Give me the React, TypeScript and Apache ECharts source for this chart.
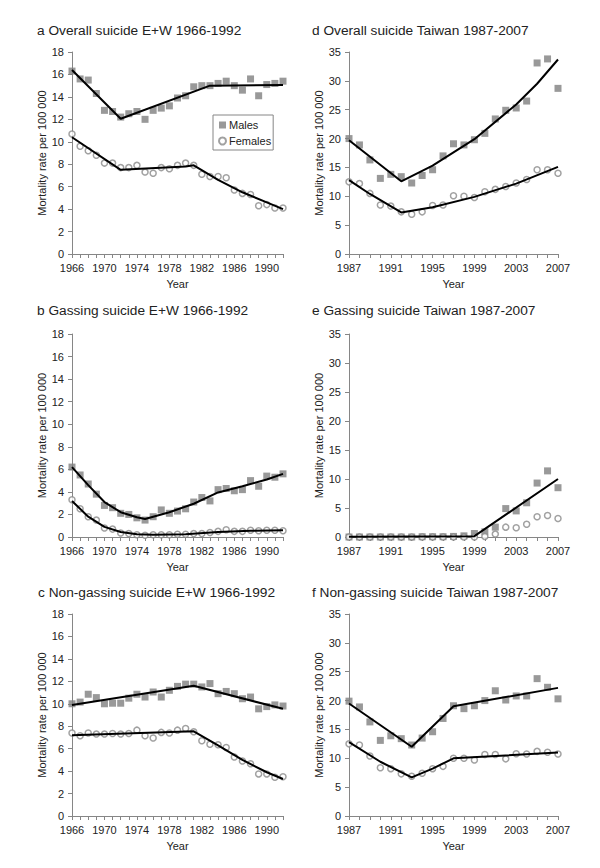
import React, { useEffect, useRef } from "react";
import * as echarts from "echarts";

// ---------- Data ----------
const ewYears = ["1966","1967","1968","1969","1970","1971","1972","1973","1974","1975","1976","1977","1978","1979","1980","1981","1982","1983","1984","1985","1986","1987","1988","1989","1990","1991","1992"];
const twYears = ["1987","1988","1989","1990","1991","1992","1993","1994","1995","1996","1997","1998","1999","2000","2001","2002","2003","2004","2005","2006","2007"];

const ewTicks = [0, 18, 2];
const twTicks = [0, 35, 5];

// a Overall suicide E+W
const aMales = [16.3,15.6,15.5,14.3,12.8,12.7,12.2,12.5,12.7,12.0,12.8,13.0,13.2,13.9,14.1,14.9,15.0,15.0,15.2,15.4,15.0,14.6,15.6,14.1,15.1,15.2,15.4];
const aFemales = [10.7,9.6,9.2,8.8,8.1,8.1,7.7,7.7,7.9,7.3,7.2,7.7,7.6,7.9,8.1,7.9,7.1,6.9,6.9,6.8,5.7,5.4,5.3,4.3,4.4,4.1,4.1];
const aMaleTrend = [["1966",16.4],["1972",12.05],["1983",15.0],["1992",15.05]];
const aFemaleTrend = [["1966",10.4],["1972",7.5],["1980",7.8],["1981",7.9],["1984",6.6],["1987",5.5],["1990",4.6],["1992",4.0]];

// b Gassing suicide E+W
const bMales = [6.2,5.5,4.7,3.8,2.8,2.6,2.1,2.0,1.7,1.5,1.8,2.4,2.1,2.3,2.5,3.1,3.5,3.2,4.2,4.3,4.1,4.2,5.0,4.5,5.4,5.3,5.6];
const bFemales = [3.3,2.5,1.8,1.5,0.8,0.7,0.35,0.3,0.2,0.15,0.2,0.2,0.2,0.25,0.25,0.3,0.3,0.4,0.5,0.65,0.5,0.5,0.6,0.55,0.6,0.6,0.55];
const bMaleTrend = [["1966",6.2],["1968",4.6],["1970",3.1],["1972",2.2],["1974",1.75],["1975",1.6],["1978",2.2],["1981",2.95],["1984",3.95],["1987",4.5],["1990",5.1],["1992",5.6]];
const bFemaleTrend = [["1966",3.2],["1968",1.8],["1970",0.9],["1972",0.45],["1974",0.25],["1976",0.2],["1980",0.25],["1984",0.45],["1988",0.55],["1992",0.6]];

// c Non-gassing suicide E+W
const cMales = [10.0,10.15,10.85,10.55,10.0,10.05,10.05,10.5,10.85,10.6,11.05,10.6,11.2,11.55,11.75,11.75,11.5,11.8,10.9,11.1,10.9,10.45,10.6,9.55,9.75,9.9,9.8];
const cFemales = [7.4,7.15,7.4,7.3,7.3,7.35,7.3,7.35,7.65,7.15,6.95,7.45,7.4,7.65,7.8,7.5,6.7,6.4,6.35,6.1,5.25,4.9,4.65,3.75,3.75,3.45,3.5];
const cMaleTrend = [["1966",9.9],["1981",11.6],["1992",9.55]];
const cFemaleTrend = [["1966",7.2],["1981",7.55],["1984",6.3],["1987",5.0],["1990",3.9],["1992",3.3]];

// d Overall suicide Taiwan
const dMales = [20.0,18.9,16.3,13.1,13.8,13.4,12.3,13.6,14.6,17.0,19.1,18.9,19.8,20.9,23.4,24.9,25.3,26.5,33.1,33.8,28.7];
const dFemales = [12.5,12.2,10.5,8.5,8.3,7.3,6.9,7.3,8.4,8.5,10.1,10.0,9.8,10.8,11.2,11.7,12.3,12.9,14.6,14.6,14.0];
const dMaleTrend = [["1987",19.7],["1992",12.6],["1995",15.3],["1999",19.9],["2003",25.9],["2005",29.5],["2007",33.7]];
const dFemaleTrend = [["1987",12.8],["1989",10.4],["1992",7.2],["1995",8.1],["1999",9.9],["2003",12.2],["2007",15.1]];

// e Gassing suicide Taiwan
const eMales = [0,0,0,0,0,0,0,0.05,0.05,0.05,0.1,0.2,0.6,0.9,1.7,4.9,4.5,5.9,9.3,11.4,8.5];
const eFemales = [0,0,0,0,0,0,0,0,0,0,0,0,0,0.1,0.5,1.7,1.6,2.2,3.5,3.7,3.2];
const eMaleTrend = [["1987",0.05],["1999",0.15],["2007",10.0]];
const eFemaleTrend: (string | number)[][] = [];

// f Non-gassing suicide Taiwan
const fMales = [19.9,18.9,16.3,13.1,13.9,13.4,12.3,13.5,14.6,16.9,19.1,18.6,19.1,20.0,21.7,20.1,20.8,20.8,23.8,22.3,20.3];
const fFemales = [12.5,12.3,10.4,8.35,8.2,7.3,6.9,7.4,8.2,8.6,10.0,10.0,9.7,10.65,10.65,9.9,10.8,10.75,11.2,11.05,10.75];
const fMaleTrend = [["1987",19.5],["1993",12.0],["1997",19.0],["2007",22.2]];
const fFemaleTrend = [["1987",12.8],["1990",9.4],["1993",6.7],["1995",8.2],["1997",10.0],["2007",11.0]];

const titles = [
  "a Overall suicide E+W 1966-1992",
  "b Gassing suicide E+W 1966-1992",
  "c Non-gassing suicide E+W 1966-1992",
  "d Overall suicide Taiwan 1987-2007",
  "e Gassing suicide Taiwan 1987-2007",
  "f Non-gassing suicide Taiwan 1987-2007",
];

const FONT = "'Liberation Sans', Arial, sans-serif";
const TEXT = "#222";
const AXIS = "#868686";

export default function App() {
  const ref = useRef<HTMLDivElement>(null);
  useEffect(() => {
    if (!ref.current) return;
    const chart = echarts.init(ref.current, null, { renderer: "svg" });

    const panels = [
      { title: titles[0], years: ewYears, ticks: ewTicks, m: aMales, f: aFemales, mt: aMaleTrend, ft: aFemaleTrend, grid: { left: 72, top: 52, width: 211, height: 202 }, tl: [37, 23] },
      { title: titles[1], years: ewYears, ticks: ewTicks, m: bMales, f: bFemales, mt: bMaleTrend, ft: bFemaleTrend, grid: { left: 72, top: 334, width: 211, height: 203 }, tl: [37, 303] },
      { title: titles[2], years: ewYears, ticks: ewTicks, m: cMales, f: cFemales, mt: cMaleTrend, ft: cFemaleTrend, grid: { left: 72, top: 614, width: 211, height: 202 }, tl: [38, 585] },
      { title: titles[3], years: twYears, ticks: twTicks, m: dMales, f: dFemales, mt: dMaleTrend, ft: dFemaleTrend, grid: { left: 349, top: 52, width: 209, height: 202 }, tl: [312, 23] },
      { title: titles[4], years: twYears, ticks: twTicks, m: eMales, f: eFemales, mt: eMaleTrend, ft: eFemaleTrend, grid: { left: 349, top: 334, width: 209, height: 203 }, tl: [312, 303] },
      { title: titles[5], years: twYears, ticks: twTicks, m: fMales, f: fFemales, mt: fMaleTrend, ft: fFemaleTrend, grid: { left: 349, top: 614, width: 209, height: 202 }, tl: [312, 585] },
    ];

    const grid: any[] = [];
    const xAxis: any[] = [];
    const yAxis: any[] = [];
    const title: any[] = [];
    const series: any[] = [];

    panels.forEach((p, i) => {
      grid.push({ ...p.grid, containLabel: false });
      title.push({
        text: p.title,
        left: p.tl[0],
        top: p.tl[1],
        padding: 0,
        textStyle: { fontFamily: FONT, fontSize: 13.7, fontWeight: "normal", color: TEXT },
      });
      xAxis.push({
        type: "category",
        gridIndex: i,
        data: p.years,
        boundaryGap: false,
        axisLine: { show: true, lineStyle: { color: AXIS, width: 1 } },
        axisTick: { show: true, interval: 0, length: 4, lineStyle: { color: AXIS } },
        axisLabel: { interval: 3, color: TEXT, fontSize: 11, fontFamily: FONT, margin: 8 },
        splitLine: { show: false },
        name: "Year",
        nameLocation: "middle",
        nameGap: 24,
        nameTextStyle: { color: TEXT, fontSize: 11, fontFamily: FONT },
      });
      yAxis.push({
        type: "value",
        gridIndex: i,
        min: p.ticks[0],
        max: p.ticks[1],
        interval: p.ticks[2],
        axisLine: { show: true, lineStyle: { color: AXIS, width: 1 } },
        axisTick: { show: true, length: 4, lineStyle: { color: AXIS } },
        axisLabel: { color: TEXT, fontSize: 11, fontFamily: FONT, margin: 8 },
        splitLine: { show: false },
        name: "Mortality rate per 100 000",
        nameLocation: "middle",
        nameGap: 25,
        nameTextStyle: { color: TEXT, fontSize: 11, fontFamily: FONT },
      });
      series.push({
        type: "scatter",
        name: "Males",
        xAxisIndex: i,
        yAxisIndex: i,
        data: p.m,
        symbol: "rect",
        symbolSize: 7,
        itemStyle: { color: "#808080" },
        z: 2,
      });
      series.push({
        type: "scatter",
        name: "Females",
        xAxisIndex: i,
        yAxisIndex: i,
        data: p.f,
        symbol: "circle",
        symbolSize: 6,
        itemStyle: { color: "#ffffff", borderColor: "#8a8a8a", borderWidth: 1.5 },
        z: 2,
      });
      if (p.mt.length) {
        series.push({
          type: "line",
          name: "Males trend",
          xAxisIndex: i,
          yAxisIndex: i,
          data: p.mt,
          symbol: "none",
          lineStyle: { color: "#000", width: 2 },
          z: 3,
        });
      }
      if (p.ft.length) {
        series.push({
          type: "line",
          name: "Females trend",
          xAxisIndex: i,
          yAxisIndex: i,
          data: p.ft,
          symbol: "none",
          lineStyle: { color: "#000", width: 2 },
          z: 3,
        });
      }
    });

    chart.setOption({
      animation: false,
      backgroundColor: "#ffffff",
      textStyle: { fontFamily: FONT },
      title,
      grid,
      xAxis,
      yAxis,
      series,
      legend: {
        data: ["Males", "Females"],
        orient: "vertical",
        left: 213,
        top: 115,
        padding: [4, 2, 3, 5],
        itemGap: 4,
        itemWidth: 7,
        itemHeight: 7,
        borderColor: AXIS,
        borderWidth: 1,
        backgroundColor: "#fff",
        selectedMode: false,
        textStyle: { fontSize: 11, color: TEXT, fontFamily: FONT, lineHeight: 12, padding: [0, 0, 0, -2] },
      },
    });

    return () => chart.dispose();
  }, []);

  return (
    <div
      ref={ref}
      style={{ position: "absolute", left: 0, top: 0, width: 600, height: 868 }}
    />
  );
}
